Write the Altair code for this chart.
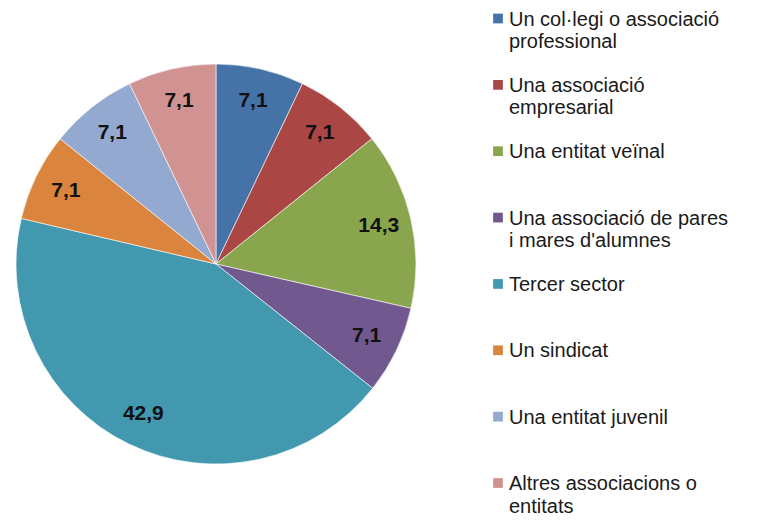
import altair as alt
import pandas as pd

categories = [
    "Un col·legi o associació professional",
    "Una associació empresarial",
    "Una entitat veïnal",
    "Una associació de pares i mares d'alumnes",
    "Tercer sector",
    "Un sindicat",
    "Una entitat juvenil",
    "Altres associacions o entitats",
]
legend_line1 = [
    "Un col·legi o associació",
    "Una associació",
    "Una entitat veïnal",
    "Una associació de pares",
    "Tercer sector",
    "Un sindicat",
    "Una entitat juvenil",
    "Altres associacions o",
]
legend_line2 = [
    "professional",
    "empresarial",
    "",
    "i mares d'alumnes",
    "",
    "",
    "",
    "entitats",
]
values = [7.1, 7.1, 14.3, 7.1, 42.9, 7.1, 7.1, 7.1]
value_labels = ["7,1", "7,1", "14,3", "7,1", "42,9", "7,1", "7,1", "7,1"]
colors = ["#4572A7", "#AA4643", "#89A54E", "#71588F", "#4198AF", "#DB843D", "#93A9CF", "#D19392"]

df = pd.DataFrame({
    "cat": categories,
    "line1": legend_line1,
    "line2": legend_line2,
    "value": values,
    "label": value_labels,
    "order": list(range(len(categories))),
})

base = alt.Chart(df)
color = alt.Color("cat:N", scale=alt.Scale(domain=categories, range=colors), legend=None)
theta = alt.Theta("value:Q", stack=True)
order = alt.Order("order:Q", sort="ascending")

cx, cy = 208, 256

pie = base.mark_arc(outerRadius=200, stroke="white", strokeWidth=0.6).encode(
    theta=theta, order=order, color=color,
    x=alt.value(cx), y=alt.value(cy),
)

labels = base.mark_text(
    radius=167, fontSize=21, fontWeight="bold", font="Liberation Sans", color="#111111"
).encode(
    theta=theta, order=order, text="label:N",
    x=alt.value(cx), y=alt.value(cy),
)

ypos = alt.Y("order:Q", scale=alt.Scale(domain=[0, 7], range=[10.5, 475], nice=False, zero=False), axis=None)

symbols = base.mark_point(shape="square", filled=True, size=95, opacity=1).encode(
    x=alt.value(490), y=ypos, color=color,
)

text_style = dict(align="left", baseline="alphabetic", fontSize=20,
                  font="Liberation Sans", color="#1a1a1a")

legend_first = base.mark_text(dy=7, **text_style).encode(
    x=alt.value(501), y=ypos, text="line1:N",
)
legend_second = base.transform_filter("datum.line2 != ''").mark_text(dy=29.5, **text_style).encode(
    x=alt.value(501), y=ypos, text="line2:N",
)

chart = alt.layer(pie, labels, symbols, legend_first, legend_second).properties(
    width=741, height=509, padding=0, background="white",
    autosize=alt.AutoSizeParams(type="none"),
).configure_view(stroke=None, strokeWidth=0)

chart.save("out.html", embed_options={"renderer": "svg", "actions": False})
